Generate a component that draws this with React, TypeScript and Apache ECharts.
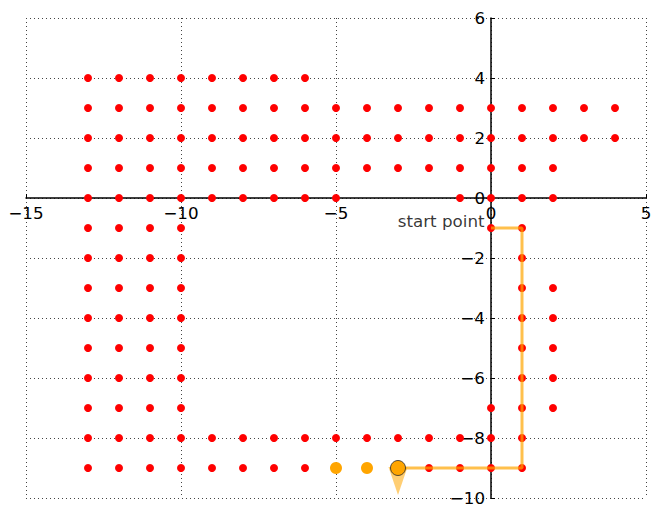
import React, { useEffect, useRef } from "react";
import * as echarts from "echarts";

// red grid points, one row per y value
const row4 = { y: 4, xs: [-13, -12, -11, -10, -9, -8, -7, -6] };
const row3 = { y: 3, xs: [-13, -12, -11, -10, -9, -8, -7, -6, -5, -4, -3, -2, -1, 0, 1, 2, 3, 4] };
const row2 = { y: 2, xs: [-13, -12, -11, -10, -9, -8, -7, -6, -5, -4, -3, -2, -1, 0, 1, 2, 3, 4] };
const row1 = { y: 1, xs: [-13, -12, -11, -10, -9, -8, -7, -6, -5, -4, -3, -2, -1, 0, 1, 2] };
const row0 = { y: 0, xs: [-13, -12, -11, -10, -9, -8, -7, -6, -5, -1, 0, 1, 2] };
const rowM1 = { y: -1, xs: [-13, -12, -11, -10, 0, 1] };
const rowM2 = { y: -2, xs: [-13, -12, -11, -10, 1] };
const rowM3 = { y: -3, xs: [-13, -12, -11, -10, 1, 2] };
const rowM4 = { y: -4, xs: [-13, -12, -11, -10, 1, 2] };
const rowM5 = { y: -5, xs: [-13, -12, -11, -10, 1, 2] };
const rowM6 = { y: -6, xs: [-13, -12, -11, -10, 1, 2] };
const rowM7 = { y: -7, xs: [-13, -12, -11, -10, 0, 1, 2] };
const rowM8 = { y: -8, xs: [-13, -12, -11, -10, -9, -8, -7, -6, -5, -4, -3, -2, -1, 0, 1] };
const rowM9 = { y: -9, xs: [-13, -12, -11, -10, -9, -8, -7, -6, -2, -1, 0, 1] };
const redRows = [row4, row3, row2, row1, row0, rowM1, rowM2, rowM3, rowM4, rowM5, rowM6, rowM7, rowM8, rowM9];

const pathPoints = [[0, -1], [1, -1], [1, -9], [-3, -9]];
const orangePoints = [[-5, -9], [-4, -9]];
const currentPoint = [[-3, -9]];
const headingPoint = [[-3, -9.43]];
const startPoint = [[0, -1]];
const startLabel = "start point";

const xMin = -15, xMax = 5, xStep = 5;
const yMin = -10, yMax = 6, yStep = 2;

const W = 659, H = 518;
const GL = 26, GR = 13, GT = 18, GB = 20;

export default function App() {
  const ref = useRef<HTMLDivElement>(null);
  useEffect(() => {
    const chart = echarts.init(ref.current!, null, { renderer: "svg" });
    const redData: number[][] = [];
    redRows.forEach((r) => r.xs.forEach((x) => redData.push([x, r.y])));
    const font = "DejaVu Sans";
    const fs = 16.7;
    const plotW = W - GL - GR;
    const plotH = H - GT - GB;
    // shift axes so they cross at the origin (spines through zero)
    const xAxisOffset = -plotH * (0 - yMin) / (yMax - yMin);
    const yAxisOffset = -plotW * (0 - xMin) / (xMax - xMin);
    const fmt = (v: number) => String(v).replace("-", "\u2212");
    const axisCommon = {
      axisLine: { onZero: false, lineStyle: { color: "#000", width: 1.5 } },
      axisTick: { show: true, inside: true, length: 4, lineStyle: { color: "#000" } },
      splitLine: { show: true, lineStyle: { color: "#444", width: 1, type: [1, 3] } },
    };
    chart.setOption({
      animation: false,
      grid: { left: GL, right: GR, top: GT, bottom: GB, containLabel: false, outerBoundsMode: "none" },
      xAxis: {
        type: "value",
        min: xMin,
        max: xMax,
        interval: xStep,
        position: "bottom",
        offset: xAxisOffset,
        ...axisCommon,
        axisLabel: { color: "#000", fontSize: fs, fontFamily: font, margin: 6, formatter: fmt },
      },
      yAxis: {
        type: "value",
        min: yMin,
        max: yMax,
        interval: yStep,
        position: "left",
        offset: yAxisOffset,
        ...axisCommon,
        axisLabel: { color: "#000", fontSize: fs, fontFamily: font, margin: 6, formatter: fmt },
      },
      series: [
        {
          type: "scatter",
          data: redData,
          symbolSize: 8,
          itemStyle: { color: "#ff0000", opacity: 1 },
          z: 2,
        },
        {
          type: "line",
          data: pathPoints,
          showSymbol: false,
          lineStyle: { color: "rgba(255,165,0,0.7)", width: 3 },
          z: 3,
        },
        {
          type: "scatter",
          data: orangePoints,
          symbolSize: 12,
          itemStyle: { color: "#ffa500", opacity: 1 },
          z: 4,
        },
        {
          type: "scatter",
          data: headingPoint,
          symbol: "triangle",
          symbolRotate: 180,
          symbolSize: [19, 28],
          itemStyle: { color: "rgba(255,165,0,0.55)", opacity: 1 },
          z: 4,
        },
        {
          type: "scatter",
          data: currentPoint,
          symbolSize: 15,
          itemStyle: { color: "#ffa500", borderColor: "rgba(40,40,40,0.8)", borderWidth: 1, opacity: 1 },
          z: 5,
        },
        {
          type: "scatter",
          data: startPoint,
          symbolSize: 1,
          itemStyle: { color: "rgba(0,0,0,0)" },
          label: {
            show: true,
            formatter: startLabel,
            position: "left",
            distance: 6,
            offset: [0, -7],
            color: "#000",
            fontSize: fs,
            fontFamily: font,
          },
          z: 6,
        },
      ],
    });
    return () => chart.dispose();
  }, []);
  return <div ref={ref} style={{ position: "absolute", left: 0, top: 0, width: W, height: H }} />;
}
